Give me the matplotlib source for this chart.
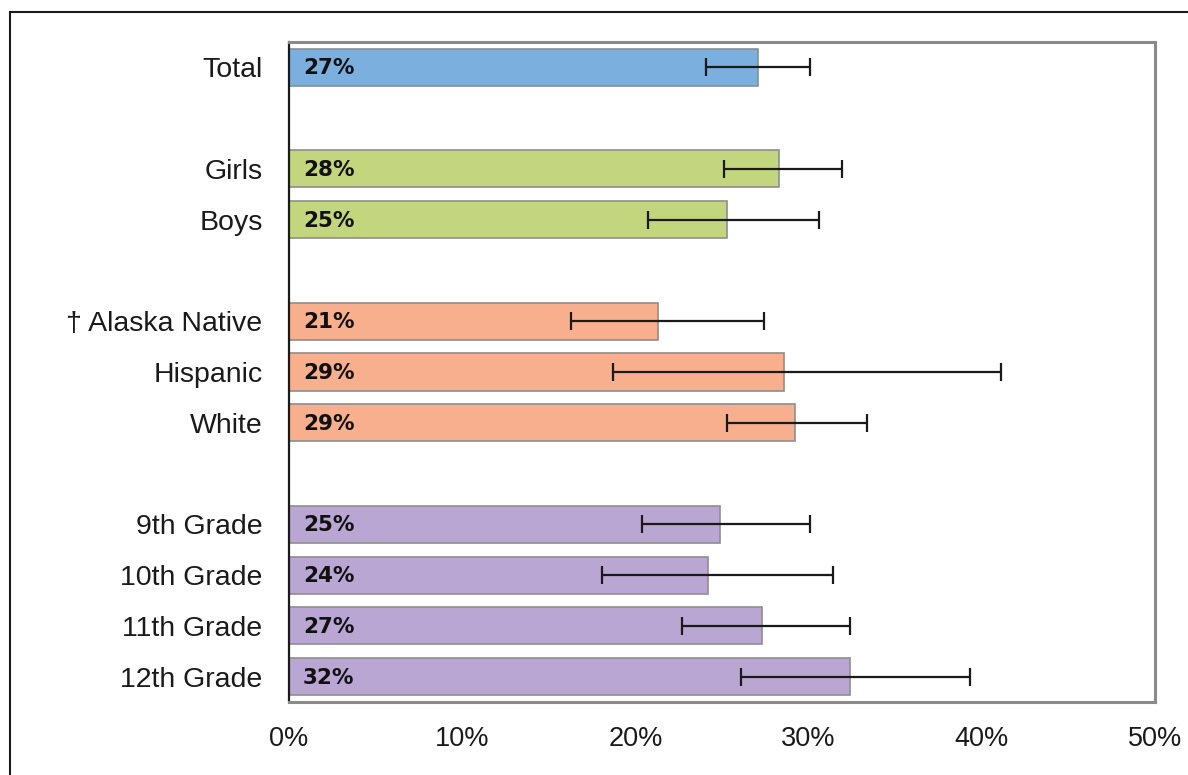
import matplotlib
matplotlib.use("Agg")
import matplotlib.pyplot as plt
from matplotlib.patches import Rectangle
import numpy as np

plt.rcParams['font.family'] = ['Liberation Sans', 'DejaVu Sans']

categories = ["Total", "Girls", "Boys", "\u2020 Alaska Native", "Hispanic", "White",
              "9th Grade", "10th Grade", "11th Grade", "12th Grade"]
slots = [0, 2, 3, 5, 6, 7, 9, 10, 11, 12]
values = [27.1, 28.3, 25.3, 21.3, 28.6, 29.2, 24.9, 24.2, 27.3, 32.4]
labels = ["27%", "28%", "25%", "21%", "29%", "29%", "25%", "24%", "27%", "32%"]
ci_low = [24.1, 25.1, 20.7, 16.3, 18.7, 25.3, 20.4, 18.1, 22.7, 26.1]
ci_high = [30.1, 31.9, 30.6, 27.4, 41.1, 33.4, 30.1, 31.4, 32.4, 39.3]
group_colors = ["#7BAFDE", "#C3D67E", "#C3D67E", "#F8AF8D", "#F8AF8D", "#F8AF8D",
                "#BAA6D2", "#BAA6D2", "#BAA6D2", "#BAA6D2"]
xticks = [0, 10, 20, 30, 40, 50]
xticklabels = ["0%", "10%", "20%", "30%", "40%", "50%"]

fig = plt.figure(figsize=(11.88, 7.75), dpi=100)
ax = fig.add_axes([289/1188, 1 - 702/775, (1155-289)/1188, (702-42)/775])

vals = np.array(values)
lo = vals - np.array(ci_low)
hi = np.array(ci_high) - vals
ax.barh(slots, values, height=0.73, color=group_colors, edgecolor="#8E8E8E", linewidth=1.2, zorder=2)
ax.errorbar(values, slots, xerr=[lo, hi], fmt="none", ecolor="#1a1a1a", elinewidth=1.6,
            capsize=6.5, capthick=1.6, zorder=3)

for s, lab in zip(slots, labels):
    ax.text(0.8, s + 0.02, lab, va="center", ha="left", fontsize=15.5, fontweight="bold",
            family="DejaVu Sans", color="#111111", zorder=4)

ax.set_xlim(0, 50)
ax.set_ylim(12.5, -0.5)
ax.set_yticks(slots)
ax.set_yticklabels(categories, fontsize=20.5, color="#1a1a1a")
ax.set_xticks(xticks)
ax.set_xticklabels(xticklabels, fontsize=19.5, color="#1a1a1a")
ax.tick_params(axis="both", length=0)
ax.tick_params(axis="y", pad=19)
ax.tick_params(axis="x", pad=17)

for side in ["top", "right", "bottom"]:
    ax.spines[side].set_color("#8A8A8A")
    ax.spines[side].set_linewidth(2.2)
ax.spines["left"].set_color("#1a1a1a")
ax.spines["left"].set_linewidth(1.6)

# outer frame
fig.patches.append(Rectangle((10/1188, -0.1), 1.2, 1 - 12/775 + 0.1, transform=fig.transFigure,
                             fill=False, edgecolor="#1a1a1a", linewidth=1.5))

fig.savefig("out.png", dpi=100)
